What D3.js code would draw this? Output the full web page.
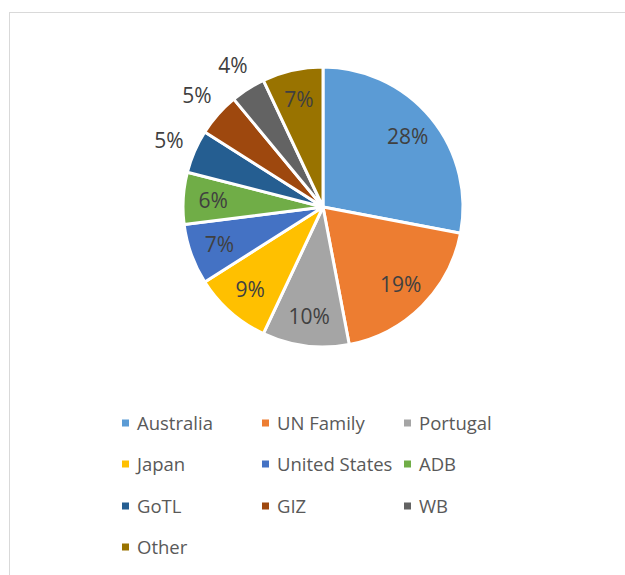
<!DOCTYPE html>
<html>
<head>
<meta charset="utf-8">
<script src="https://cdn.jsdelivr.net/npm/d3@7"></script>
<style>
  body { margin: 0; background: #fff; }
  svg { display: block; }
</style>
</head>
<body>
<svg id="chart" width="625" height="575"></svg>
<script>
// data
let donors = ["Australia", "UN Family", "Portugal", "Japan", "United States", "ADB", "GoTL", "GIZ", "WB", "Other"];
let shares = [28, 19, 10, 9, 7, 6, 5, 5, 4, 7];
let colours = ["#5b9bd5", "#ed7d31", "#a5a5a5", "#ffc000", "#4472c4", "#70ad47", "#255e91", "#9e480e", "#636363", "#997300"];
let outsideLabels = ["GoTL", "GIZ", "WB"]; // small slices labelled outside the pie

let cx = 323, cy = 207;
let radius = 140;
let labelR = 110;     // inside label distance
let outLabelR = 168;  // outside label distance

let fontFamily = "'Open Sans', 'DejaVu Sans', sans-serif";

let svg = d3.select("#chart");

// chart frame (light grey border, cut off by the screenshot)
svg.append("rect")
    .attr("x", 9.5)
    .attr("y", 12.5)
    .attr("width", 800)
    .attr("height", 800)
    .style("fill", "#fff")
    .style("stroke", "#d9d9d9")
    .style("stroke-width", 1);

let colour = d3.scaleOrdinal().domain(donors).range(colours);

let pie = d3.pie().sort(null).value(d => d.value);
let arcs = pie(donors.map((d, i) => ({ name: d, value: shares[i] })));

let arc = d3.arc().innerRadius(0).outerRadius(radius);
let inArc = d3.arc().innerRadius(labelR).outerRadius(labelR);
let outArc = d3.arc().innerRadius(outLabelR).outerRadius(outLabelR);

let g = svg.append("g").attr("transform", "translate(" + cx + "," + cy + ")");

g.selectAll("path")
    .data(arcs)
    .enter().append("path")
    .attr("d", arc)
    .style("fill", d => colour(d.data.name))
    .style("stroke", "#fff")
    .style("stroke-width", 3)
    .style("stroke-linejoin", "round");

g.selectAll("text.pct")
    .data(arcs)
    .enter().append("text")
    .attr("class", "pct")
    .attr("transform", d => {
        let c = outsideLabels.includes(d.data.name) ? outArc.centroid(d) : inArc.centroid(d);
        return "translate(" + c[0] + "," + c[1] + ")";
    })
    .attr("text-anchor", "middle")
    .attr("dy", "0.36em")
    .style("font-family", fontFamily)
    .style("font-size", "21px")
    .style("fill", "#404040")
    .text(d => d.data.value + "%");

// legend, 3 columns
let legendX = d3.scaleOrdinal().domain([0, 1, 2]).range([122, 262, 404]);
let legendY = d3.scaleOrdinal().domain([0, 1, 2, 3]).range([423, 464, 506, 547]);

let legend = svg.append("g");
let items = legend.selectAll("g")
    .data(donors)
    .enter().append("g")
    .attr("transform", (d, i) => "translate(" + legendX(i % 3) + "," + legendY(Math.floor(i / 3)) + ")");

items.append("rect")
    .attr("x", 0)
    .attr("y", -3.5)
    .attr("width", 7)
    .attr("height", 7)
    .style("fill", d => colour(d));

items.append("text")
    .attr("x", 15)
    .attr("dy", "0.36em")
    .style("font-family", fontFamily)
    .style("font-size", "18.5px")
    .style("fill", "#595959")
    .text(d => d);
</script>
</body>
</html>
